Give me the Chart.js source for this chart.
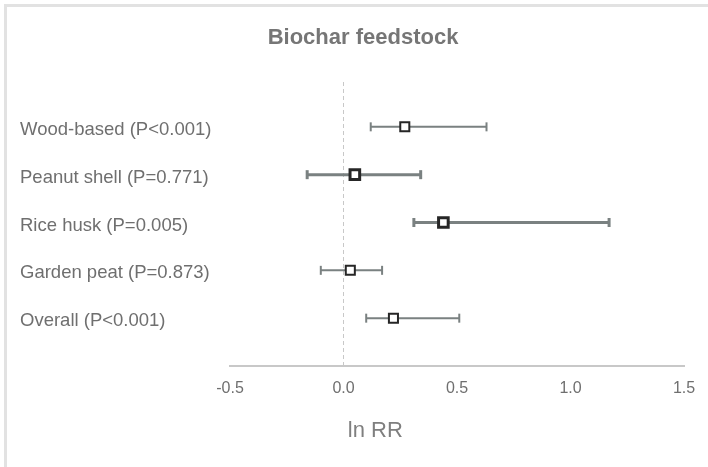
<!DOCTYPE html>
<html>
<head>
<meta charset="utf-8">
<script src="https://cdn.jsdelivr.net/npm/chart.js"></script>
<style>
  html, body { margin: 0; padding: 0; background: #fff; }
  #wrap { position: relative; width: 708px; height: 467px; overflow: hidden; }
  #frame { position: absolute; left: 4px; top: 4px; width: 800px; height: 600px;
           border-left: 3px solid #e2e2e2; border-top: 3px solid #e2e2e2; }
  #forest { position: absolute; left: 0; top: 0; }
</style>
</head>
<body>
<div id="wrap">
  <div id="frame"></div>
  <canvas id="forest" width="708" height="467"></canvas>
</div>
<script>
const feedstocks = ["Wood-based (P<0.001)", "Peanut shell (P=0.771)", "Rice husk (P=0.005)", "Garden peat (P=0.873)", "Overall (P<0.001)"];
const lnRR = [0.27, 0.05, 0.44, 0.03, 0.22];
const ciLow = [0.12, -0.16, 0.31, -0.10, 0.10];
const ciHigh = [0.63, 0.34, 1.17, 0.17, 0.51];
const xTicks = [-0.5, 0.0, 0.5, 1.0, 1.5];

// rows are drawn top to bottom: first feedstock sits highest
const rowY = feedstocks.map((f, i) => feedstocks.length - i);
const heavy = [false, true, true, false, false];

Chart.defaults.font.family = "'Liberation Sans', Arial, sans-serif";
Chart.defaults.color = "#6f6f6f";

const barColor = "#7a8181";

const errorBars = feedstocks.map((f, i) => ({
    data: [{ x: ciLow[i], y: rowY[i] }, { x: ciHigh[i], y: rowY[i] }],
    showLine: true,
    borderColor: barColor,
    borderWidth: heavy[i] ? 3 : 2,
    pointStyle: "line",
    pointRotation: 90,
    pointRadius: 4.5,
    pointBorderWidth: heavy[i] ? 3 : 2,
    pointBorderColor: barColor,
}));

const axisLabel = {
    id: "axisLabel",
    afterDraw(chart) {
        const { ctx, chartArea } = chart;
        ctx.save();
        ctx.font = "22px 'Liberation Sans', Arial, sans-serif";
        ctx.fillStyle = "#7f7f7f";
        ctx.textAlign = "center";
        ctx.textBaseline = "middle";
        ctx.fillText("ln RR", chartArea.left + 0.32 * (chartArea.right - chartArea.left), chartArea.bottom + 65);
        ctx.restore();
    },
};

new Chart(document.getElementById("forest"), {
    type: "scatter",
    data: {
        datasets: [
            {
                data: lnRR.map((v, i) => ({ x: v, y: rowY[i] })),
                pointStyle: "rect",
                pointRadius: heavy.map(h => (h ? 6.8 : 6.4)),
                pointBorderWidth: heavy.map(h => (h ? 3 : 2)),
                pointBackgroundColor: "#ffffff",
                pointBorderColor: "#262626",
            },
            ...errorBars,
            {
                data: [{ x: 0, y: 0 }, { x: 0, y: feedstocks.length + 1 }],
                showLine: true,
                borderColor: "#c8c8c8",
                borderWidth: 1,
                borderDash: [4, 3],
                pointRadius: 0,
            },
        ],
    },
    options: {
        responsive: false,
        animation: false,
        layout: { padding: { left: 20, right: 2, top: 0, bottom: 0 } },
        plugins: {
            legend: { display: false },
            tooltip: { enabled: false },
            title: {
                display: true,
                text: "Biochar feedstock",
                color: "#767676",
                font: { size: 22, weight: "bold" },
                padding: { top: 25, bottom: 27.6 },
            },
        },
        scales: {
            x: {
                type: "linear",
                min: -0.5,
                max: 1.5,
                afterBuildTicks: s => { s.ticks = xTicks.map(v => ({ value: v })); },
                afterFit: s => { s.height = 101; s.paddingRight = 24; },
                grid: { display: false, drawTicks: false },
                border: { display: true, color: "#c8c8c8", width: 2 },
                ticks: {
                    padding: 13,
                    font: { size: 16 },
                    color: "#6f6f6f",
                    callback: v => v.toFixed(1),
                },
            },
            y: {
                type: "linear",
                min: 0,
                max: feedstocks.length + 1,
                afterBuildTicks: s => { s.ticks = rowY.map(v => ({ value: v })); },
                afterFit: s => { s.width = 210; },
                grid: { display: false, drawTicks: false },
                border: { display: false },
                ticks: {
                    crossAlign: "far",
                    labelOffset: 3,
                    font: { size: 18.5 },
                    color: "#6f6f6f",
                    callback: v => feedstocks[feedstocks.length - v],
                },
            },
        },
    },
    plugins: [axisLabel],
});
</script>
</body>
</html>
